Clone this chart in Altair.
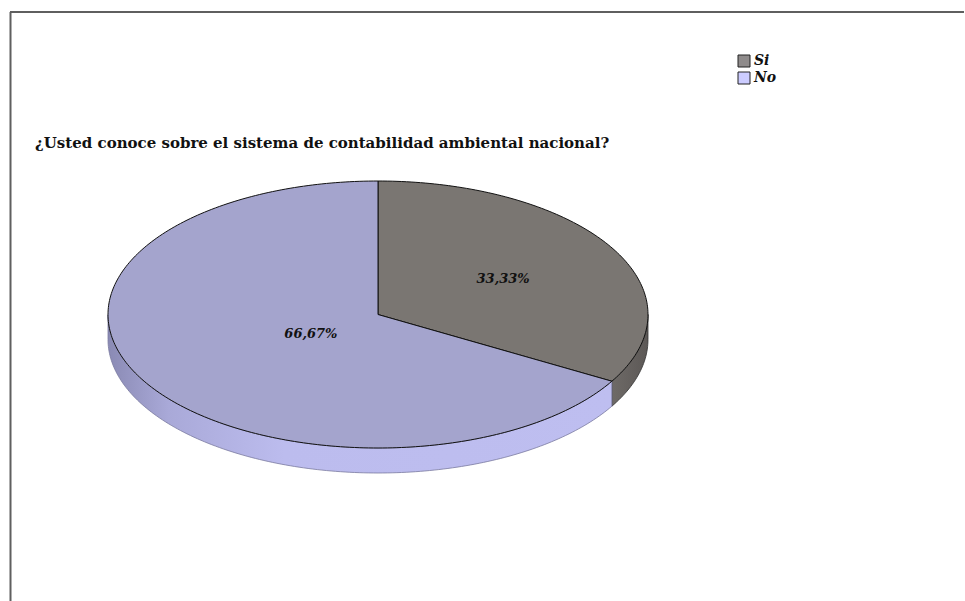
import numpy as np
import pandas as pd
import altair as alt

# ---- data ----
categories = ["Si", "No"]
values = [33.33, 66.67]
labels = ["33,33%", "66,67%"]
title_text = "¿Usted conoce sobre el sistema de contabilidad ambiental nacional?"

# ---- style / layout ----
top_colors = ["#7a7672", "#a4a4cd"]
legend_colors = ["#8f8b8b", "#ccccff"]
label_radius = [0.535, 0.287]
W, H = 965, 601
CX, CY, RX, RY, DEPTH = 378.0, 314.5, 270.0, 133.5, 25.0
SERIF = "DejaVu Serif"

xs = alt.Scale(domain=[0, W], nice=False, zero=False)
ys = alt.Scale(domain=[0, H], nice=False, zero=False, reverse=True)


def pt(t, dy=0.0):
    return CX + RX * np.sin(t), CY - RY * np.cos(t) + dy


total = float(sum(values))
cum = np.concatenate([[0.0], np.cumsum(values)]) / total * 2 * np.pi

layers = []

# side faces (front half only)
side_fills = [
    alt.Gradient(gradient="linear", x1=0, x2=1, y1=0, y2=0,
                 stops=[alt.GradientStop(color="#6e6a67", offset=0),
                        alt.GradientStop(color="#5c5856", offset=1)]),
    alt.Gradient(gradient="linear", x1=0, x2=1, y1=0, y2=0,
                 stops=[alt.GradientStop(color="#8a8ab4", offset=0),
                        alt.GradientStop(color="#a9a9d8", offset=0.12),
                        alt.GradientStop(color="#bcbcee", offset=0.35),
                        alt.GradientStop(color="#bebef0", offset=1)]),
]
side_strokes = ["#333333", "#7a7aa0"]
for i, cat in enumerate(categories):
    a = max(cum[i], np.pi / 2)
    b = min(cum[i + 1], 3 * np.pi / 2)
    if a >= b:
        continue
    n = max(3, int(np.degrees(b - a)) + 1)
    ts = np.linspace(a, b, n)
    rows = []
    for t in ts:
        rows.append(pt(t))
    for t in ts[::-1]:
        rows.append(pt(t, DEPTH))
    rows.append(rows[0])
    df = pd.DataFrame(rows, columns=["x", "y"])
    df["k"] = np.arange(len(df))
    layers.append(
        alt.Chart(df).mark_line(filled=True, fill=side_fills[i], stroke=side_strokes[i],
                                strokeWidth=0.8, strokeJoin="round")
        .encode(x=alt.X("x:Q", scale=xs, axis=None),
                y=alt.Y("y:Q", scale=ys, axis=None),
                order="k:Q")
    )

# top faces
for i, cat in enumerate(categories):
    a, b = cum[i], cum[i + 1]
    n = max(3, int(np.degrees(b - a)) + 1)
    ts = np.linspace(a, b, n)
    rows = [(CX, CY)] + [pt(t) for t in ts] + [(CX, CY)]
    df = pd.DataFrame(rows, columns=["x", "y"])
    df["k"] = np.arange(len(df))
    layers.append(
        alt.Chart(df).mark_line(filled=True, fill=top_colors[i], stroke="#111111",
                                strokeWidth=1, strokeJoin="miter")
        .encode(x=alt.X("x:Q", scale=xs, axis=None),
                y=alt.Y("y:Q", scale=ys, axis=None),
                order="k:Q")
    )

# percentage labels
mids = (cum[:-1] + cum[1:]) / 2
lab_df = pd.DataFrame({
    "label": labels,
    "x": [CX + RX * np.sin(m) * r for m, r in zip(mids, label_radius)],
    "y": [CY - RY * np.cos(m) * r for m, r in zip(mids, label_radius)],
})
layers.append(
    alt.Chart(lab_df).mark_text(font=SERIF, fontSize=13, fontWeight="bold", fontStyle="italic",
                                color="#111111", align="center", baseline="middle")
    .encode(x=alt.X("x:Q", scale=xs, axis=None), y=alt.Y("y:Q", scale=ys, axis=None), text="label:N")
)

# title
layers.append(
    alt.Chart(pd.DataFrame({"t": [title_text]})).mark_text(
        font=SERIF, fontSize=15, fontWeight="bold", color="#111111",
        align="left", baseline="middle")
    .encode(x=alt.value(35), y=alt.value(143), text="t:N")
)

# legend
leg = pd.DataFrame({"cat": categories, "i": range(len(categories))})
leg["y0"] = 55 + leg["i"] * 17
leg["y1"] = leg["y0"] + 12
leg["yc"] = leg["y0"] + 6
layers.append(
    alt.Chart(leg).mark_rect(stroke="#222222", strokeWidth=1)
    .encode(x=alt.value(738), x2=alt.value(750),
            y=alt.Y("y0:Q", scale=ys, axis=None), y2="y1:Q",
            color=alt.Color("cat:N", scale=alt.Scale(domain=categories, range=legend_colors), legend=None))
)
layers.append(
    alt.Chart(leg).mark_text(font=SERIF, fontSize=14, fontWeight="bold", fontStyle="italic",
                             color="#111111", align="left", baseline="middle")
    .encode(x=alt.value(754), y=alt.Y("yc:Q", scale=ys, axis=None), text="cat:N")
)

# frame lines (top and left)
frame = pd.DataFrame({"d": [0]})
layers.append(alt.Chart(frame).mark_rule(color="#5f5f5f", strokeWidth=2)
              .encode(x=alt.value(10), x2=alt.value(964), y=alt.value(12)))
layers.append(alt.Chart(frame).mark_rule(color="#5f5f5f", strokeWidth=2)
              .encode(x=alt.value(10.5), y=alt.value(12), y2=alt.value(601)))

chart = alt.layer(*layers).properties(
    width=W, height=H, padding=0,
    autosize=alt.AutoSizeParams(type="none"),
    background="white",
).configure_view(stroke=None)

chart.save("out.html", embed_options={"renderer": "svg", "actions": False})
